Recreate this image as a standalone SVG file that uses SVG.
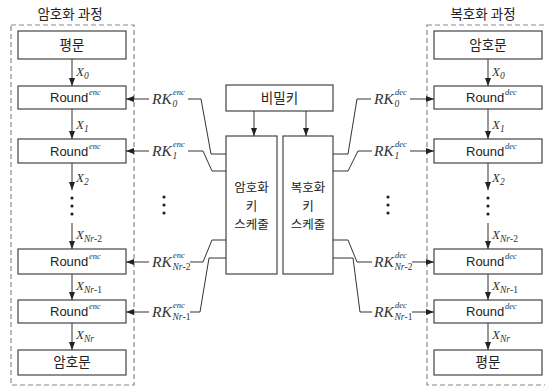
<svg xmlns="http://www.w3.org/2000/svg" width="545" height="387" viewBox="0 0 545 387">
<style>
.bg{fill:#ffffff}
.box{fill:#ffffff;stroke:#444;stroke-width:1.2}
.dash{fill:none;stroke:#888;stroke-width:1.2;stroke-dasharray:5,3}
.ln{fill:none;stroke:#333;stroke-width:1}
.ko{font-family:"Noto Sans CJK KR","Noto Sans CJK SC",sans-serif;font-size:13.5px;fill:#222;text-anchor:middle}
.ks{font-size:12.5px}
.rd{font-family:"Liberation Sans",Arial,sans-serif;font-size:13px;fill:#222}
.it{font-family:"Liberation Serif","Times New Roman",serif;font-style:italic;fill:#333}
.rk{font-size:15.5px}
.x{font-size:13px}
.sb{font-size:9.5px}
.sp{font-size:8.5px}
.dot{fill:#222}
</style>
<defs>
<marker id="ah" markerUnits="userSpaceOnUse" markerWidth="8" markerHeight="6" refX="8" refY="3" orient="auto">
<path d="M0,0 L8,3 L0,6 z" fill="#222"/>
</marker>
</defs>
<rect class="bg" x="0" y="0" width="545" height="387"/>

<g id="enc-process">
<rect class="dash" x="11" y="25" width="123" height="360"/>
<text class="ko" x="70" y="19">암호화 과정</text>
</g>
<g id="dec-process">
<rect class="dash" x="427" y="25" width="125" height="360"/>
<text class="ko" x="483" y="19">복호화 과정</text>
</g>

<!-- left column nodes -->
<g id="enc-plain"><rect class="box" x="18" y="31" width="108" height="28"/><text class="ko" x="72" y="50">평문</text></g>
<g id="enc-r0"><rect class="box" x="18" y="86" width="108" height="23"/><text class="rd" x="50" y="102">Round</text><text class="it sp" x="89" y="95">enc</text></g>
<g id="enc-r1"><rect class="box" x="18" y="139" width="108" height="24"/><text class="rd" x="50" y="156">Round</text><text class="it sp" x="89" y="149">enc</text></g>
<g id="enc-r2"><rect class="box" x="18" y="249" width="108" height="25"/><text class="rd" x="50" y="266">Round</text><text class="it sp" x="89" y="259">enc</text></g>
<g id="enc-r3"><rect class="box" x="18" y="300" width="108" height="23"/><text class="rd" x="50" y="316">Round</text><text class="it sp" x="89" y="309">enc</text></g>
<g id="enc-cipher"><rect class="box" x="18" y="350" width="108" height="25"/><text class="ko" x="72" y="367">암호문</text></g>

<!-- right column nodes -->
<g id="dec-cipher"><rect class="box" x="434" y="31" width="108" height="28"/><text class="ko" x="488" y="50">암호문</text></g>
<g id="dec-r0"><rect class="box" x="434" y="86" width="108" height="23"/><text class="rd" x="466" y="102">Round</text><text class="it sp" x="505" y="95">dec</text></g>
<g id="dec-r1"><rect class="box" x="434" y="139" width="108" height="24"/><text class="rd" x="466" y="156">Round</text><text class="it sp" x="505" y="149">dec</text></g>
<g id="dec-r2"><rect class="box" x="434" y="249" width="108" height="25"/><text class="rd" x="466" y="266">Round</text><text class="it sp" x="505" y="259">dec</text></g>
<g id="dec-r3"><rect class="box" x="434" y="300" width="108" height="23"/><text class="rd" x="466" y="316">Round</text><text class="it sp" x="505" y="309">dec</text></g>
<g id="dec-plain"><rect class="box" x="434" y="350" width="108" height="25"/><text class="ko" x="488" y="367">평문</text></g>

<!-- center nodes -->
<g id="secret-key"><rect class="box" x="226" y="85" width="107" height="26"/><text class="ko" x="279.5" y="103">비밀키</text></g>
<g id="enc-schedule"><rect class="box" x="226" y="136" width="51" height="138"/>
<text class="ko ks" x="251.5" y="192">암호화</text><text class="ko ks" x="251.5" y="210.5">키</text><text class="ko ks" x="251.5" y="229">스케줄</text></g>
<g id="dec-schedule"><rect class="box" x="283" y="136" width="50" height="138"/>
<text class="ko ks" x="308" y="192">복호화</text><text class="ko ks" x="308" y="210.5">키</text><text class="ko ks" x="308" y="229">스케줄</text></g>

<g id="connectors">
<!-- left vertical -->
<line class="ln" x1="72" y1="59" x2="72" y2="86" marker-end="url(#ah)"/>
<line class="ln" x1="72" y1="109" x2="72" y2="139" marker-end="url(#ah)"/>
<line class="ln" x1="72" y1="163" x2="72" y2="190" marker-end="url(#ah)"/>
<line class="ln" x1="72" y1="223" x2="72" y2="249" marker-end="url(#ah)"/>
<line class="ln" x1="72" y1="274" x2="72" y2="300" marker-end="url(#ah)"/>
<line class="ln" x1="72" y1="323" x2="72" y2="350" marker-end="url(#ah)"/>
<!-- right vertical -->
<line class="ln" x1="488" y1="59" x2="488" y2="86" marker-end="url(#ah)"/>
<line class="ln" x1="488" y1="109" x2="488" y2="139" marker-end="url(#ah)"/>
<line class="ln" x1="488" y1="163" x2="488" y2="190" marker-end="url(#ah)"/>
<line class="ln" x1="488" y1="223" x2="488" y2="249" marker-end="url(#ah)"/>
<line class="ln" x1="488" y1="274" x2="488" y2="300" marker-end="url(#ah)"/>
<line class="ln" x1="488" y1="323" x2="488" y2="350" marker-end="url(#ah)"/>
<!-- key to schedules -->
<line class="ln" x1="254" y1="111" x2="254" y2="136" marker-end="url(#ah)"/>
<line class="ln" x1="306" y1="111" x2="306" y2="136" marker-end="url(#ah)"/>
<!-- left RK arrows -->
<line class="ln" x1="149" y1="99" x2="126" y2="99" marker-end="url(#ah)"/>
<line class="ln" x1="149" y1="151" x2="126" y2="151" marker-end="url(#ah)"/>
<line class="ln" x1="149" y1="262" x2="126" y2="262" marker-end="url(#ah)"/>
<line class="ln" x1="149" y1="312" x2="126" y2="312" marker-end="url(#ah)"/>
<!-- left schedule outputs -->
<polyline class="ln" points="226,154 211,154 201,99 188,99"/>
<polyline class="ln" points="226,171 212,171 203,151 188,151"/>
<polyline class="ln" points="226,240 212,240 203,262 190,262"/>
<polyline class="ln" points="226,258 209,258 200,312 190,312"/>
<!-- right schedule outputs -->
<polyline class="ln" points="333,154 348,154 357,99 371,99"/>
<polyline class="ln" points="333,171 348,171 358,151 372,151"/>
<polyline class="ln" points="333,240 348,240 357,262 372,262"/>
<polyline class="ln" points="333,258 353,258 360,312 372,312"/>
<!-- right RK arrows -->
<line class="ln" x1="410" y1="99" x2="434" y2="99" marker-end="url(#ah)"/>
<line class="ln" x1="410" y1="151" x2="434" y2="151" marker-end="url(#ah)"/>
<line class="ln" x1="412" y1="262" x2="434" y2="262" marker-end="url(#ah)"/>
<line class="ln" x1="412" y1="312" x2="434" y2="312" marker-end="url(#ah)"/>
</g>

<g id="x-labels">
<text class="it x" x="76" y="76">X</text><text class="it sb" x="84" y="79">0</text>
<text class="it x" x="76" y="129">X</text><text class="it sb" x="84" y="132">1</text>
<text class="it x" x="76" y="182">X</text><text class="it sb" x="84" y="185">2</text>
<text class="it x" x="76" y="239">X</text><text class="it sb" x="84" y="242">Nr<tspan font-style="normal">-2</tspan></text>
<text class="it x" x="76" y="290">X</text><text class="it sb" x="84" y="293">Nr<tspan font-style="normal">-1</tspan></text>
<text class="it x" x="76" y="339">X</text><text class="it sb" x="84" y="342">Nr</text>

<text class="it x" x="492" y="76">X</text><text class="it sb" x="500" y="79">0</text>
<text class="it x" x="492" y="129">X</text><text class="it sb" x="500" y="132">1</text>
<text class="it x" x="492" y="182">X</text><text class="it sb" x="500" y="185">2</text>
<text class="it x" x="492" y="239">X</text><text class="it sb" x="500" y="242">Nr<tspan font-style="normal">-2</tspan></text>
<text class="it x" x="492" y="290">X</text><text class="it sb" x="500" y="293">Nr<tspan font-style="normal">-1</tspan></text>
<text class="it x" x="492" y="339">X</text><text class="it sb" x="500" y="342">Nr</text>
</g>

<g id="rk-labels">
<text class="it rk" x="152" y="104">RK</text><text class="it sb" x="172.5" y="107">0</text><text class="it sp" x="173" y="95">enc</text>
<text class="it rk" x="152" y="156">RK</text><text class="it sb" x="172.5" y="159">1</text><text class="it sp" x="173" y="147">enc</text>
<text class="it rk" x="152" y="267">RK</text><text class="it sb" x="172.5" y="270">Nr<tspan font-style="normal">-2</tspan></text><text class="it sp" x="173" y="258">enc</text>
<text class="it rk" x="152" y="317">RK</text><text class="it sb" x="172.5" y="320">Nr<tspan font-style="normal">-1</tspan></text><text class="it sp" x="173" y="308">enc</text>

<text class="it rk" x="374" y="104">RK</text><text class="it sb" x="394.5" y="107">0</text><text class="it sp" x="395" y="95">dec</text>
<text class="it rk" x="374" y="156">RK</text><text class="it sb" x="394.5" y="159">1</text><text class="it sp" x="395" y="147">dec</text>
<text class="it rk" x="374" y="267">RK</text><text class="it sb" x="394.5" y="270">Nr<tspan font-style="normal">-2</tspan></text><text class="it sp" x="395" y="258">dec</text>
<text class="it rk" x="374" y="317">RK</text><text class="it sb" x="394.5" y="320">Nr<tspan font-style="normal">-1</tspan></text><text class="it sp" x="395" y="308">dec</text>
</g>

<g id="ellipses">
<circle class="dot" cx="72" cy="198" r="1.6"/><circle class="dot" cx="72" cy="206" r="1.6"/><circle class="dot" cx="72" cy="214" r="1.6"/>
<circle class="dot" cx="164" cy="197" r="1.6"/><circle class="dot" cx="164" cy="205" r="1.6"/><circle class="dot" cx="164" cy="213" r="1.6"/>
<circle class="dot" cx="388" cy="197" r="1.6"/><circle class="dot" cx="388" cy="205" r="1.6"/><circle class="dot" cx="388" cy="213" r="1.6"/>
<circle class="dot" cx="488" cy="198" r="1.6"/><circle class="dot" cx="488" cy="206" r="1.6"/><circle class="dot" cx="488" cy="214" r="1.6"/>
</g>
</svg>
